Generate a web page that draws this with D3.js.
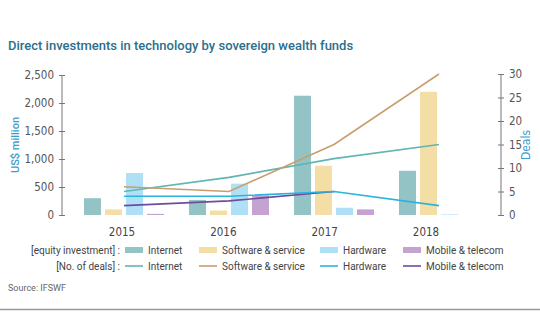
<!DOCTYPE html>
<html><head><meta charset="utf-8">
<script src="https://cdn.jsdelivr.net/npm/d3@7"></script>
<style>
html,body{margin:0;padding:0;background:#fff;}
svg{display:block;}
.cond{font-family:"Liberation Sans Narrow","DejaVu Sans Condensed","Roboto",sans-serif;font-stretch:condensed;font-weight:400;}
</style></head>
<body><svg id="c" width="540" height="334"></svg>
<script>
const years = ["2015","2016","2017","2018"];
const categories = ["Internet","Software & service","Hardware","Mobile & telecom"];
// equity investment, US$ million
const internetInv = [300, 270, 2130, 790];
const softwareInv = [100, 80, 880, 2200];
const hardwareInv = [750, 560, 130, 10];
const mobileInv = [20, 350, 100, 0];
// number of deals
const internetDeals = [5, 8, 12, 15];
const softwareDeals = [6, 5, 15, 30];
const hardwareDeals = [4, 4, 5, 2];
const mobileDeals = [2, 3, 5, null];
const leftTicks = [0, 500, 1000, 1500, 2000, 2500];
const rightTicks = [0, 5, 10, 15, 20, 25, 30];

const barColors = ["#93c3c4", "#f3dfa6", "#b0e0f6", "#c4a3d2"];
const lineColors = ["#62b5b3", "#c99e6c", "#2bb3df", "#6b4c9d"];

const invSeries = [internetInv, softwareInv, hardwareInv, mobileInv];
const dealSeries = [internetDeals, softwareDeals, hardwareDeals, mobileDeals];

const svg = d3.select("#c");
svg.append("rect").attr("width",540).attr("height",334).attr("fill","#fff");

// title
svg.append("text").attr("x",8).attr("y",50)
  .attr("font-family","Roboto, 'Open Sans', sans-serif").attr("font-weight",500)
  .attr("font-size",13).attr("fill","#2c6f8c")
  .text("Direct investments in technology by sovereign wealth funds");

const yL = d3.scaleLinear().domain([0,2500]).range([215,75]);
const yR = d3.scaleLinear().domain([0,30]).range([215,74]);
const x0 = d3.scaleBand().domain(years).range([84,479]).paddingInner(25/105).paddingOuter(0);
const x1 = d3.scaleBand().domain(d3.range(4)).range([0,x0.bandwidth()]).paddingInner(4/21).paddingOuter(0);
const xl = d3.scalePoint().domain(years).range([122,426]);

// bars
years.forEach((yr,i)=>{
  const g = svg.append("g").attr("transform",`translate(${x0(yr)},0)`);
  invSeries.forEach((s,k)=>{
    const v = s[i];
    if (v==null) return;
    g.append("rect").attr("x",x1(k)).attr("width",x1.bandwidth())
      .attr("y",yL(v)).attr("height",yL(0)-yL(v)).attr("fill",barColors[k]);
  });
});

// lines
const line = d3.line().defined(d=>d.v!=null).x(d=>x0(d.yr)+x0.bandwidth()/2).y(d=>yR(d.v));
[3,0,1,2].forEach(k=>{
  const data = years.map((yr,i)=>({yr, v: dealSeries[k][i]}));
  svg.append("path").attr("d",line(data)).attr("fill","none")
    .attr("stroke",lineColors[k]).attr("stroke-width",1.6);
});

// axes
const axL = svg.append("g").attr("transform","translate(62,0)")
  .call(d3.axisLeft(yL).tickValues(leftTicks).tickSize(3).tickPadding(5).tickFormat(d3.format(",")));
const axR = svg.append("g").attr("transform","translate(501,0)")
  .call(d3.axisRight(yR).tickValues(rightTicks).tickSize(3).tickPadding(5));
[axL,axR].forEach(a=>{
  a.select(".domain").attr("stroke","#777").attr("stroke-width",1);
  a.selectAll(".tick line").attr("stroke","#777").attr("x1",-3).attr("x2",3);
  a.selectAll("text").attr("class","cond").attr("font-size",11.5).attr("fill","#555").attr("font-family",null);
});
axL.select(".domain").attr("d","M0,75V215");
axR.select(".domain").attr("d","M0,74V215");

// axis titles
svg.append("text").attr("transform","translate(19,145) rotate(-90)").attr("text-anchor","middle")
  .attr("font-family","Roboto, sans-serif").attr("font-weight",500).attr("font-size",11)
  .attr("fill","#3d9dc9").text("US$ million");
svg.append("text").attr("class","cond").attr("transform","translate(530,145) rotate(-90)").attr("text-anchor","middle")
  .attr("font-size",12).attr("fill","#3d9dc9").text("Deals");

// year labels
svg.append("g").selectAll("text").data(years).join("text").attr("class","cond")
  .attr("x",d=>xl(d)).attr("y",236).attr("text-anchor","middle")
  .attr("font-size",11.5).attr("fill","#444").text(d=>d);

// legend
const lf = "Roboto, 'Open Sans', sans-serif";
const legX = [125, 199, 320, 403];
svg.append("text").attr("x",120).attr("y",254).attr("text-anchor","end")
  .attr("font-family",lf).attr("font-size",10).attr("fill","#444").text("[equity investment] :");
svg.append("text").attr("x",120).attr("y",270).attr("text-anchor","end")
  .attr("font-family",lf).attr("font-size",10).attr("fill","#444").text("[No. of deals] :");
categories.forEach((c,k)=>{
  svg.append("rect").attr("x",legX[k]).attr("y",247).attr("width",18).attr("height",6).attr("fill",barColors[k]);
  svg.append("text").attr("x",legX[k]+23).attr("y",254).attr("font-family",lf).attr("font-size",10).attr("fill","#444").text(c);
  svg.append("line").attr("x1",legX[k]).attr("x2",legX[k]+18).attr("y1",266).attr("y2",266)
    .attr("stroke",lineColors[k]).attr("stroke-width",1.6);
  svg.append("text").attr("x",legX[k]+23).attr("y",270).attr("font-family",lf).attr("font-size",10).attr("fill","#444").text(c);
});

// source
svg.append("text").attr("x",8).attr("y",291).attr("font-family",lf).attr("font-size",9)
  .attr("fill","#666").text("Source: IFSWF");

// bottom rule
svg.append("line").attr("x1",0).attr("x2",540).attr("y1",309.5).attr("y2",309.5)
  .attr("stroke","#999").attr("stroke-width",1.5);
</script></body></html>
